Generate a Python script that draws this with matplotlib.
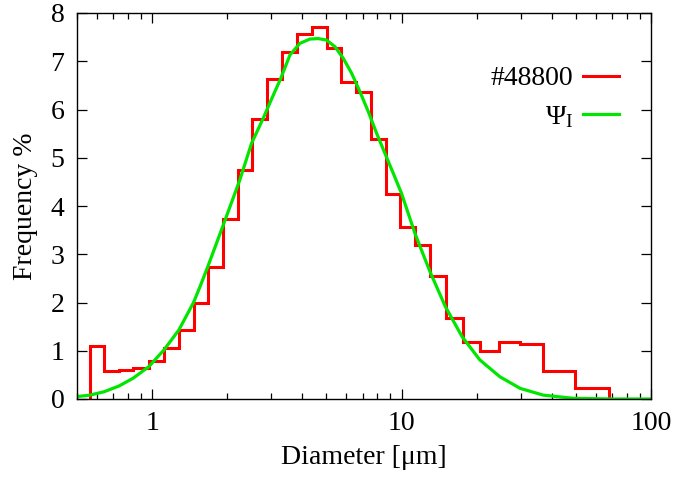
import matplotlib
matplotlib.use("Agg")
import matplotlib.pyplot as plt
from matplotlib.ticker import LogLocator, NullFormatter

plt.rcParams['font.family'] = ['Liberation Serif', 'DejaVu Serif']
plt.rcParams['mathtext.fontset'] = 'custom'
plt.rcParams['mathtext.rm'] = 'Liberation Serif'
plt.rcParams['mathtext.it'] = 'Liberation Serif:italic'

# Histogram bin edges (diameter, um) and frequencies (%)
bin_edges = [0.5625, 0.642, 0.737, 0.839, 0.970, 1.117, 1.280, 1.466, 1.677,
             1.927, 2.201, 2.518, 2.893, 3.314, 3.796, 4.384, 5.007, 5.713,
             6.564, 7.518, 8.635, 9.90, 11.32, 13.00, 15.03, 17.58, 20.63,
             24.58, 29.86, 37.02, 49.6, 68.1]
hist_freq = [1.10, 0.57, 0.60, 0.65, 0.79, 1.05, 1.42, 1.98, 2.74, 3.73,
             4.75, 5.80, 6.63, 7.20, 7.56, 7.70, 7.28, 6.58, 6.37, 5.38,
             4.24, 3.57, 3.19, 2.55, 1.67, 1.19, 1.00, 1.18, 1.13, 0.57, 0.22]

# Fitted curve Psi_I
fit_d = [0.5, 0.5625, 0.642, 0.737, 0.839, 0.970, 1.117, 1.280, 1.466, 1.554,
         1.677, 1.927, 2.247, 2.505, 2.79, 3.05, 3.27, 3.57, 3.91, 4.29,
         4.63, 5.0, 5.41, 5.84, 6.31, 6.81, 7.35, 7.94, 8.58, 9.26, 10.0,
         11.32, 13.0, 15.0, 17.5, 20.6, 24.8, 29.9, 37.0, 48.7, 70.0, 100.0]
fit_f = [0.05, 0.08, 0.15, 0.27, 0.43, 0.67, 1.02, 1.43, 2.00, 2.32,
         2.76, 3.60, 4.54, 5.30, 5.82, 6.28, 6.63, 7.13, 7.37, 7.46,
         7.47, 7.44, 7.30, 7.06, 6.75, 6.37, 5.96, 5.51, 5.09, 4.68, 4.26,
         3.43, 2.64, 1.91, 1.29, 0.81, 0.46, 0.22, 0.08, 0.015, 0.0, 0.0]

labels = ['#48800', r'Ψ$_{\mathrm{I}}$']
yticks = [0, 1, 2, 3, 4, 5, 6, 7, 8]
xticks = [1, 10, 100]
xtick_labels = ['1', '10', '100']

fig = plt.figure(figsize=(6.77, 4.80), dpi=100)
ax = fig.add_axes([77/677, 1-399/480, (651-77)/677, (399-13)/480])

ax.stairs(hist_freq, bin_edges, baseline=0, color='#ff0000', lw=2.2,
          label=labels[0])
ax.plot(fit_d, fit_f, color='#00e600', lw=2.3, label=labels[1])

ax.set_xscale('log')
ax.set_xlim(0.5, 100)
ax.set_ylim(0, 8)
ax.set_xticks(xticks)
ax.set_xticklabels(xtick_labels)
ax.xaxis.set_minor_locator(LogLocator(base=10, subs=range(2, 10)))
ax.xaxis.set_minor_formatter(NullFormatter())
ax.set_yticks(yticks)

ax.tick_params(which='both', direction='in', top=True, right=True,
               labelsize=20, width=0.9)
ax.tick_params(which='major', length=7, pad=9)
ax.tick_params(which='minor', length=4)
for s in ax.spines.values():
    s.set_linewidth(1.0)

ax.set_xlabel('Diameter [μm]', fontsize=20)
ax.set_ylabel('Frequency %', fontsize=20)
ax.xaxis.set_label_coords(0.5, -0.118)
ax.yaxis.set_label_coords(-0.068, 0.5)

ax.legend(loc='upper right', bbox_to_anchor=(619/677, 1-66/480),
          bbox_transform=fig.transFigure, frameon=False, markerfirst=False,
          fontsize=20, handlelength=1.3, handletextpad=0.35,
          borderpad=0, borderaxespad=0, labelspacing=0.45)

fig.savefig('out.png', dpi=100)
